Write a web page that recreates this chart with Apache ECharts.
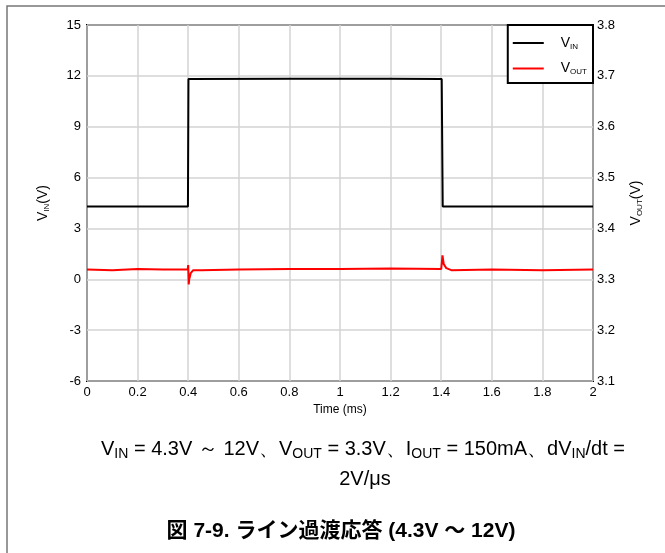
<!DOCTYPE html>
<html>
<head>
<meta charset="utf-8">
<script src="https://cdn.jsdelivr.net/npm/echarts@6/dist/echarts.min.js"></script>
<style>
  html, body { margin: 0; padding: 0; background: #fff; }
  #show_picture { width: 665px; height: 553px; }
</style>
</head>
<body>
<div id="show_picture"></div>
<script>
// time (ms) for input voltage
let vinTime = [0, 0.2, 0.399, 0.401, 0.8, 1.2, 1.402, 1.406, 1.6, 2];
let vinVals = [4.3, 4.3, 4.3, 11.82, 11.83, 11.83, 11.82, 4.3, 4.3, 4.3];

// time (ms) and output voltage
let voutTime = [0, 0.1, 0.2, 0.3, 0.398, 0.400, 0.402, 0.404, 0.41, 0.42, 0.45, 0.6, 0.8, 1.0, 1.2, 1.4, 1.402, 1.405, 1.41, 1.42, 1.44, 1.6, 1.8, 2];
let voutVals = [3.319, 3.318, 3.320, 3.319, 3.319, 3.328, 3.290, 3.300, 3.312, 3.318, 3.318, 3.319, 3.320, 3.320, 3.321, 3.320, 3.330, 3.347, 3.330, 3.322, 3.318, 3.319, 3.318, 3.319];

let xTicks = [0, 0.2, 0.4, 0.6, 0.8, 1, 1.2, 1.4, 1.6, 1.8, 2];

let show_picture = document.getElementById('show_picture');
let myChart = echarts.init(show_picture);

const fnt = '"Liberation Sans", Arial, sans-serif';

let vinData = vinTime.map((t, i) => [t, vinVals[i]]);
let voutData = voutTime.map((t, i) => [t, voutVals[i]]);

let subRich = {
    a: { fontFamily: fnt, fontSize: 14, color: '#000' },
    s: { fontFamily: fnt, fontSize: 8, color: '#000', padding: [7, 0, 0, 0] }
};

let option = {
    animation: false,
    textStyle: { fontFamily: fnt },
    grid: {
        left: 87, right: 72, top: 25, bottom: 172,
        show: true, borderColor: '#000', borderWidth: 2
    },
    legend: {
        right: 72, top: 25,
        orient: 'vertical',
        backgroundColor: '#fff',
        borderColor: '#000', borderWidth: 2, borderRadius: 0,
        padding: [11, 6, 7, 5],
        itemWidth: 31, itemHeight: 2, itemGap: 11,
        icon: 'rect',
        data: ['VIN', 'VOUT'],
        formatter: n => '{a|V}{s|' + n.slice(1) + '}',
        textStyle: { rich: subRich, padding: [0, 0, 0, 12] }
    },
    xAxis: {
        type: 'value', min: 0, max: 2, interval: 0.2,
        name: 'Time (ms)', nameLocation: 'middle', nameGap: 23,
        nameTextStyle: { fontSize: 12, color: '#000', fontFamily: fnt },
        axisLine: { show: false },
        axisTick: { show: false },
        axisLabel: { fontSize: 13, color: '#000', margin: 5,
            formatter: v => String(Math.round(v * 10) / 10) },
        splitLine: { lineStyle: { color: '#d3d3d3', width: 1.5 } }
    },
    yAxis: [{
        type: 'value', min: -6, max: 15, interval: 3,
        name: '{a|V}{s|IN}{a|(V)}', nameLocation: 'middle', nameGap: 36, nameRotate: 90,
        nameTextStyle: { rich: subRich },
        axisLine: { show: false }, axisTick: { show: false },
        axisLabel: { fontSize: 13, color: '#000', margin: 6 },
        splitLine: { lineStyle: { color: '#d3d3d3', width: 1.5 } }
    }, {
        type: 'value', min: 3.1, max: 3.8, interval: 0.1,
        name: '{a|V}{s|OUT}{a|(V)}', nameLocation: 'middle', nameGap: 36, nameRotate: 90,
        nameTextStyle: { rich: subRich },
        axisLine: { show: false }, axisTick: { show: false },
        axisLabel: { fontSize: 13, color: '#000', margin: 4,
            formatter: v => v.toFixed(1) },
        splitLine: { show: false }
    }],
    series: [{
        name: 'VIN', type: 'line', yAxisIndex: 0, data: vinData,
        showSymbol: false, color: '#000',
        lineStyle: { color: '#000', width: 2 }
    }, {
        name: 'VOUT', type: 'line', yAxisIndex: 1, data: voutData,
        showSymbol: false, color: '#ff0000',
        lineStyle: { color: '#ff0000', width: 2 }
    }],
    graphic: [{
        type: 'rect', shape: { x: 7, y: 6, width: 700, height: 600 },
        style: { fill: 'none', stroke: '#777', lineWidth: 1.5 }, silent: true
    }, {
        type: 'text', x: 363, y: 449,
        style: {
            text: '{m|V}{s|IN}{m| = 4.3V ～ 12V、V}{s|OUT}{m| = 3.3V、I}{s|OUT}{m| = 150mA、dV}{s|IN}{m|/dt =}',
            align: 'center', verticalAlign: 'middle',
            rich: {
                m: { fontFamily: fnt, fontSize: 20, color: '#000', lineHeight: 26 },
                s: { fontFamily: fnt, fontSize: 14, color: '#000', padding: [10, 0, 0, 0] }
            }
        }
    }, {
        type: 'text', x: 365, y: 479,
        style: { text: '2V/μs', align: 'center', verticalAlign: 'middle',
            font: '20px "Liberation Sans", Arial, sans-serif', fill: '#000' }
    }, {
        type: 'text', x: 341, y: 531,
        style: {
            text: '図 7-9. ライン過渡応答 (4.3V ～ 12V)',
            align: 'center', verticalAlign: 'middle',
            font: 'bold 21px "Liberation Sans", "Noto Sans CJK JP", sans-serif', fill: '#000'
        }
    }]
};

option && myChart.setOption(option);
</script>
</body>
</html>
